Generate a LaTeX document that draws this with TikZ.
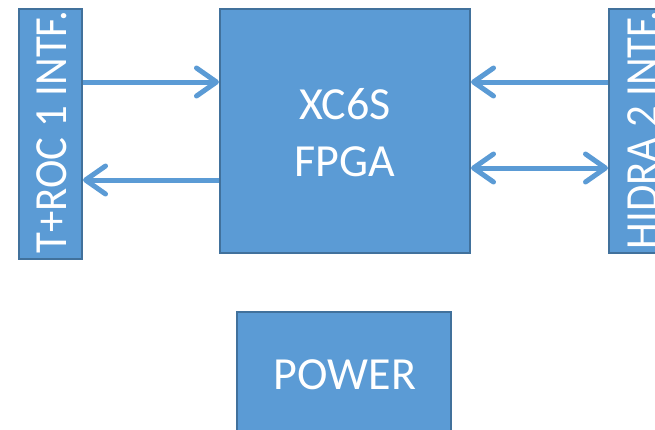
\documentclass[tikz,border=0pt]{standalone}
\usepackage{fontspec}
\setmainfont{Carlito}
\usetikzlibrary{arrows.meta}
\definecolor{boxfill}{HTML}{5B9BD5}
\definecolor{boxline}{HTML}{41719C}
\tikzset{
  blk/.style={draw=boxline, fill=boxfill, line width=2pt, inner sep=0pt},
  txt/.style={text=white, font=\fontsize{46pt}{57pt}\selectfont, align=center, inner sep=0pt},
  arr/.style={draw=boxfill, line width=5pt, -{Straight Barb[length=20pt,width=28pt,round]}},
  darr/.style={draw=boxfill, line width=5pt, {Straight Barb[length=20pt,width=28pt,round]}-{Straight Barb[length=20pt,width=28pt,round]}}
}
\begin{document}
\begin{tikzpicture}[x=1pt,y=-1pt]
\useasboundingbox (0,0) rectangle (655,429);
\clip (0,0) rectangle (655,429);
% blocks
\node[blk, minimum width=63pt, minimum height=250pt] (L) at (50.5,134) {};
\node[txt, rotate=90] (Lt) at (52,132) {\scalebox{0.93}[1]{T+ROC 1 INTF.}};
\node[blk, minimum width=250pt, minimum height=244pt] (F) at (345,131) {};
\node[txt] (Ft) at (345,133) {XC6S\\FPGA};
\node[blk, minimum width=63pt, minimum height=244pt] (R) at (640.5,131) {};
\node[txt, rotate=90] (Rt) at (643,130) {\scalebox{0.93}[1]{HIDRA 2 INTF.}};
\node[blk, minimum width=214pt, minimum height=126pt] (P) at (344,375) {};
\node[txt] (Pt) at (345,375) {POWER};
% rows
\coordinate (ya) at (0,82);
\coordinate (yb) at (0,180);
\coordinate (yc) at (0,168);
% connectors
\draw[arr] (L.east |- ya) -- (F.west |- ya);
\draw[arr] (F.west |- yb) -- (L.east |- yb);
\draw[arr] (R.west |- ya) -- (F.east |- ya);
\draw[darr] (F.east |- yc) -- (R.west |- yc);
\end{tikzpicture}
\end{document}
